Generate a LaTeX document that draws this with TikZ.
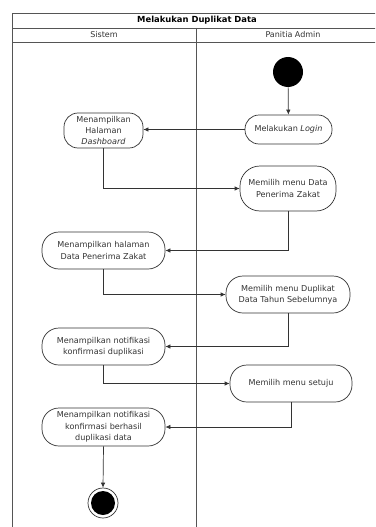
\documentclass[tikz,border=0pt]{standalone}
\usepackage{fontspec}
\setmainfont{DejaVu Sans}
\usetikzlibrary{arrows.meta}
\definecolor{ink}{HTML}{333333}
\definecolor{frame}{HTML}{555555}
\tikzset{
  act/.style={draw=ink, line width=0.7pt, rounded corners=14pt, align=center,
     font=\fontsize{8.1}{11.3}\selectfont, text=ink, inner sep=1pt},
  flow/.style={draw=ink, line width=0.7pt, -{Latex[length=5pt,width=4.5pt]}},
  lane/.style={draw=frame, line width=0.8pt},
}
\begin{document}
\begin{tikzpicture}[x=1pt,y=-1pt]
\useasboundingbox (0,0) rectangle (375,527);
\clip (0,0) rectangle (375,527);
\fill[white] (0,0) rectangle (375,527);
% frame
\draw[lane] (12,540) -- (12,13) -- (400,13) -- (400,540);
\draw[lane] (12,28) -- (400,28);
\draw[lane] (12,42) -- (400,42);
\draw[lane] (196,28) -- (196,540);
\node[font=\fontsize{8.4}{10}\selectfont\bfseries, text=black] (title) at (197,20.5) {Melakukan Duplikat Data};
\node[font=\fontsize{8}{10}\selectfont, text=ink] (l1) at (104,35) {Sistem};
\node[font=\fontsize{8}{10}\selectfont, text=ink] (l2) at (293,35) {Panitia Admin};
% nodes
\node[circle, fill=black, minimum size=30pt, inner sep=0pt] (start) at (288,72) {};
\node[act, minimum width=87pt, minimum height=29pt] (login) at (288.5,129.5) {Melakukan \textit{Login}};
\node[act, minimum width=79pt, minimum height=35pt] (dash) at (103.5,130.5) {Menampilkan\\Halaman\\\textit{Dashboard}};
\node[act, minimum width=96pt, minimum height=45pt, rounded corners=20pt] (mdata) at (288,188.5) {Memilih menu Data\\Penerima Zakat};
\node[act, minimum width=123pt, minimum height=37pt, rounded corners=17pt] (hdata) at (103.5,250.5) {Menampilkan halaman\\Data Penerima Zakat};
\node[act, minimum width=124pt, minimum height=37pt, rounded corners=17pt] (mdup) at (288,294.5) {Memilih menu Duplikat\\Data Tahun Sebelumnya};
\node[act, minimum width=123pt, minimum height=37pt, rounded corners=17pt] (ndup) at (103.5,346.5) {Menampilkan notifikasi\\konfirmasi duplikasi};
\node[act, minimum width=122pt, minimum height=37pt, rounded corners=17pt] (setuju) at (291,383.5) {Memilih menu setuju};
\node[act, minimum width=123pt, minimum height=38pt, rounded corners=17pt] (nok) at (103.5,427) {Menampilkan notifikasi\\konfirmasi berhasil\\duplikasi data};
\node[circle, draw=ink, line width=0.7pt, minimum size=30pt, inner sep=0pt] (end) at (103,503) {};
\node[circle, fill=black, minimum size=24pt, inner sep=0pt] (endin) at (103,503) {};
% flows
\draw[flow] (start) -- (login);
\draw[flow] (login.west) -- (login.west -| dash.east);
\draw[flow] (dash.south) |- (mdata.west);
\draw[flow] (mdata.south) |- (hdata.east);
\draw[flow] (hdata.south) |- (mdup.west);
\draw[flow] (mdup.south) |- (ndup.east);
\draw[flow] (ndup.south) |- (setuju.west);
\draw[flow] (setuju.south) |- (nok.east);
\draw[flow] (nok.south) -- (end.north);
\end{tikzpicture}
\end{document}
